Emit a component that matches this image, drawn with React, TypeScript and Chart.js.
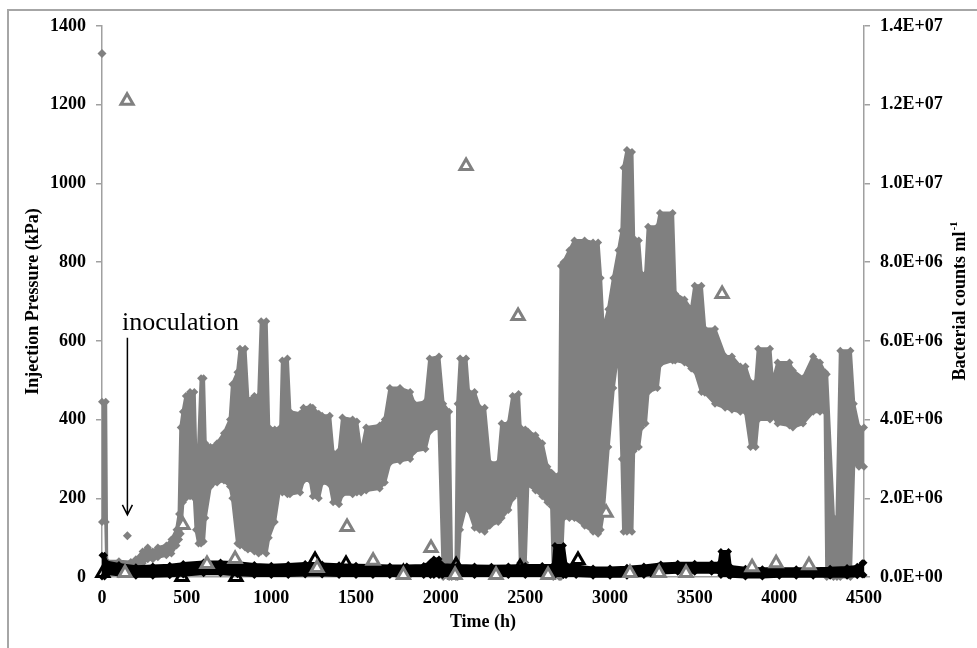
import React, { useEffect, useRef } from "react";
import { Chart, registerables } from "chart.js";

Chart.register(...registerables);

// ---- Injection pressure (gray diamonds), read as upper / lower envelope of the dense cloud ----
const timeH = [
  0, 22, 28, 100, 170, 200, 240, 270, 300, 330, 380, 410, 440, 455, 465, 478, 495, 520, 545, 555,
  570, 585, 600, 610, 640, 680, 720, 756, 770, 800, 815, 845, 862, 900, 925, 940, 970, 985, 1020, 1055,
  1065, 1095, 1110, 1170, 1190, 1230, 1245, 1280, 1300, 1345, 1365, 1400, 1420, 1480, 1505, 1530, 1560, 1640, 1670, 1700,
  1760, 1820, 1845, 1910, 1935, 1990, 2015, 2050, 2065, 2090, 2100, 2115, 2150, 2165, 2200, 2230, 2260, 2290, 2340, 2360,
  2400, 2425, 2460, 2470, 2500, 2515, 2560, 2600, 2630, 2655, 2665, 2700, 2710, 2725, 2760, 2790, 2850, 2900, 2930, 2945,
  2960, 2990, 3020, 3050, 3070, 3080, 3100, 3130, 3140, 3170, 3185, 3210, 3225, 3280, 3295, 3370, 3385, 3440, 3480, 3500,
  3540, 3560, 3620, 3680, 3720, 3770, 3800, 3830, 3860, 3875, 3945, 3960, 3990, 4060, 4080, 4140, 4200, 4240, 4270, 4280,
  4320, 4340, 4360, 4420, 4440, 4470, 4500,
];
const pressureHigh = [
  445, 445, 40, 40, 38, 45, 65, 75, 65, 75, 80, 95, 120, 160, 380, 420, 460, 470, 470, 300,
  330, 505, 505, 340, 330, 340, 365, 400, 490, 520, 580, 580, 450, 460, 460, 650, 650, 380, 375, 380,
  550, 555, 420, 415, 430, 432, 430, 415, 410, 410, 315, 320, 405, 400, 395, 315, 380, 385, 400, 480,
  480, 470, 440, 445, 555, 560, 440, 420, 30, 30, 440, 555, 555, 470, 470, 430, 430, 290, 290, 390,
  390, 460, 465, 380, 375, 370, 360, 340, 280, 265, 260, 260, 790, 800, 830, 855, 855, 850, 850, 760,
  630, 680, 760, 830, 880, 1040, 1085, 1080, 860, 855, 770, 770, 890, 890, 925, 925, 720, 705, 680, 740,
  740, 630, 630, 560, 560, 535, 535, 495, 495, 580, 580, 495, 545, 545, 525, 505, 560, 545, 520, 515,
  150, 150, 575, 575, 440, 380, 380,
];
const pressureLow = [
  140, 140, 20, 25, 20, 20, 35, 45, 45, 50, 55, 60, 80, 95, 110, 190, 200, 205, 200, 120,
  85, 85, 90, 150, 230, 240, 245, 230, 200, 85, 80, 75, 70, 65, 60, 65, 60, 100, 140, 240,
  215, 210, 210, 215, 245, 245, 205, 200, 240, 235, 190, 185, 210, 210, 215, 215, 220, 225, 240, 290,
  295, 300, 320, 325, 370, 380, 0, 0, 0, 0, 0, 120, 180, 170, 125, 120, 115, 130, 140, 150,
  170, 200, 210, 36, 36, 235, 220, 205, 190, 180, 0, 0, 0, 150, 150, 150, 130, 115, 110, 120,
  160, 330, 480, 580, 300, 115, 115, 115, 320, 330, 380, 390, 470, 480, 540, 550, 550, 545, 530, 525,
  470, 468, 440, 430, 425, 420, 420, 330, 330, 400, 400, 410, 390, 385, 380, 390, 420, 420, 420, 0,
  0, 0, 0, 0, 290, 280, 280,
];
// isolated gray diamonds
const outlierTimeH = [0, 150];
const outlierPressure = [1330, 105];

// ---- Low-pressure series (black diamonds), upper / lower envelope ----
const blackTimeH = [
  0, 15, 25, 100, 200, 300, 400, 480, 600, 700, 800, 900, 1000, 1100, 1200, 1300, 1400, 1500, 1600, 1700,
  1800, 1900, 1940, 1960, 1990, 2010, 2100, 2200, 2300, 2400, 2500, 2600, 2665, 2675, 2725, 2740, 2800, 2900, 3000, 3100,
  3200, 3300, 3400, 3500, 3600, 3645, 3655, 3700, 3710, 3800, 3900, 4000, 4100, 4200, 4300, 4400, 4460, 4490, 4500,
];
const blackHigh = [
  55, 55, 38, 32, 26, 28, 30, 34, 38, 38, 36, 32, 30, 32, 34, 33, 31, 30, 29, 28,
  28, 29, 38, 46, 46, 31, 29, 28, 27, 28, 29, 29, 30, 80, 80, 32, 28, 23, 23, 25,
  28, 33, 35, 35, 35, 35, 65, 65, 27, 22, 21, 21, 21, 21, 22, 24, 27, 36, 36,
];
const blackLow = [
  0, 0, 8, 6, 2, 2, 3, 5, 8, 8, 6, 4, 4, 4, 5, 5, 4, 4, 4, 4,
  4, 4, 4, 4, 4, 4, 4, 4, 4, 4, 4, 4, 4, 4, 4, 4, 4, 2, 2, 2,
  4, 10, 12, 12, 12, 12, 4, 4, 2, 0, 0, 2, 2, 2, 2, 2, 3, 5, 5,
];

// ---- Bacterial counts (right axis, ml^-1) ----
const grayCountTimeH = [
  136, 148, 478, 620, 786, 1270, 1447, 1601, 1780, 1943, 2085, 2150, 2327, 2457, 2634, 2977, 3118, 3290, 3449, 3662,
  3839, 3981, 4175,
];
const grayCounts = [
  1.0e5, 1.21e7, 1.32e6, 3.3e5, 4.6e5, 2.3e5, 1.27e6, 4.1e5, 5e4, 7.4e5, 5e4, 1.044e7, 5e4, 6.63e6, 5e4, 1.63e6, 1e5, 1e5, 1e5, 7.19e6,
  2.5e5, 3.5e5, 3e5,
];
const blackCountTimeH = [5, 472, 791, 1258, 1441, 1780, 2091, 2469, 2811, 3284, 3981];
const blackCounts = [1e5, 0, 0, 4.3e5, 3.3e5, 1.2e5, 3e5, 2.5e5, 4.3e5, 1.2e5, 3e5];

// ---- Annotation ----
const inoculationTimeH = 150;
const inoculationLabel = "inoculation";

const xTitle = "Time (h)";
const yTitle = "Injection Pressure (kPa)";
const y1Title = "Bacterial counts ml";
const y1TitleSup = "-1";

const GRAY = "#808080";
const AXIS = "#a0a0a0";
const SERIF = '"Liberation Serif", "Times New Roman", serif';

const pts = (xs: number[], ys: number[]) => xs.map((x, i) => ({ x, y: ys[i] }));

const fmtSci = (v: number) => {
  const [m, e] = Number(v).toExponential(1).split("e");
  const sign = e[0] === "-" ? "-" : "+";
  const d = e.replace(/[+-]/, "").padStart(2, "0");
  return `${m}E${sign}${d}`;
};

const overlayPlugin = {
  id: "overlay",
  afterDraw(chart: any) {
    const { ctx, chartArea, scales } = chart;
    const midY = (chartArea.top + chartArea.bottom) / 2;
    ctx.save();
    ctx.fillStyle = "#000";
    ctx.font = `bold 18px ${SERIF}`;
    ctx.textAlign = "center";
    ctx.textBaseline = "middle";
    ctx.fillText(xTitle, (chartArea.left + chartArea.right) / 2, chartArea.bottom + 45);

    ctx.save();
    ctx.translate(chartArea.left - 69, midY);
    ctx.rotate(-Math.PI / 2);
    ctx.fillText(yTitle, 0, 0);
    ctx.restore();

    ctx.save();
    ctx.translate(chartArea.right + 96, midY);
    ctx.rotate(-Math.PI / 2);
    ctx.font = `bold 18px ${SERIF}`;
    const w1 = ctx.measureText(y1Title).width;
    ctx.font = `bold 11px ${SERIF}`;
    const w2 = ctx.measureText(y1TitleSup).width;
    const start = -(w1 + w2) / 2;
    ctx.textAlign = "left";
    ctx.font = `bold 18px ${SERIF}`;
    ctx.fillText(y1Title, start, 0);
    ctx.font = `bold 11px ${SERIF}`;
    ctx.fillText(y1TitleSup, start + w1 + 1, -6);
    ctx.restore();

    // inoculation annotation
    const xs = scales.x;
    const ys = scales.y;
    const ax = xs.getPixelForValue(inoculationTimeH);
    ctx.font = `26px ${SERIF}`;
    ctx.textAlign = "left";
    ctx.textBaseline = "alphabetic";
    ctx.fillText(inoculationLabel, xs.getPixelForValue(118), ys.getPixelForValue(628));
    const yTop = ys.getPixelForValue(608);
    const yTip = ys.getPixelForValue(158);
    ctx.strokeStyle = "#000";
    ctx.lineWidth = 1.5;
    ctx.beginPath();
    ctx.moveTo(ax, yTop);
    ctx.lineTo(ax, yTip);
    ctx.moveTo(ax - 5, yTip - 10);
    ctx.lineTo(ax, yTip);
    ctx.lineTo(ax + 5, yTip - 10);
    ctx.stroke();
    ctx.restore();
  },
};

export default function App() {
  const ref = useRef<HTMLCanvasElement | null>(null);

  useEffect(() => {
    if (!ref.current) return;
    const tickFont = { family: SERIF, size: 18, weight: "bold" as const };
    const chart = new Chart(ref.current, {
      type: "line",
      data: {
        datasets: [
          {
            label: "counts A",
            data: pts(grayCountTimeH, grayCounts),
            yAxisID: "y1",
            showLine: false,
            pointStyle: "triangle",
            pointRadius: 7,
            pointBorderColor: GRAY,
            pointBackgroundColor: "#fff",
            pointBorderWidth: 3,
            clip: false,
          },
          {
            label: "counts B",
            data: pts(blackCountTimeH, blackCounts),
            yAxisID: "y1",
            showLine: false,
            pointStyle: "triangle",
            pointRadius: 7,
            pointBorderColor: "#000",
            pointBackgroundColor: "rgba(255,255,255,0)",
            pointBorderWidth: 3,
            clip: false,
          },
          {
            label: "outliers",
            data: pts(outlierTimeH, outlierPressure),
            yAxisID: "y",
            showLine: false,
            pointStyle: "rectRot",
            pointRadius: 4.5,
            pointBackgroundColor: GRAY,
            pointBorderWidth: 0,
            clip: false,
          },
          {
            label: "black high",
            data: pts(blackTimeH, blackHigh),
            yAxisID: "y",
            borderColor: "#000",
            borderWidth: 3,
            pointStyle: "rectRot",
            pointRadius: 3.5,
            pointBackgroundColor: "#000",
            pointBorderWidth: 0,
            fill: false,
            tension: 0,
            clip: false,
          },
          {
            label: "black low",
            data: pts(blackTimeH, blackLow),
            yAxisID: "y",
            borderColor: "#000",
            borderWidth: 3,
            pointStyle: "rectRot",
            pointRadius: 3.5,
            pointBackgroundColor: "#000",
            pointBorderWidth: 0,
            backgroundColor: "#000",
            fill: 3,
            tension: 0,
            clip: false,
          },
          {
            label: "pressure high",
            data: pts(timeH, pressureHigh),
            yAxisID: "y",
            borderColor: GRAY,
            borderWidth: 3,
            pointStyle: "rectRot",
            pointRadius: 4,
            pointBackgroundColor: GRAY,
            pointBorderWidth: 0,
            fill: false,
            tension: 0,
            clip: false,
          },
          {
            label: "pressure low",
            data: pts(timeH, pressureLow),
            yAxisID: "y",
            borderColor: GRAY,
            borderWidth: 3,
            pointStyle: "rectRot",
            pointRadius: 4,
            pointBackgroundColor: GRAY,
            pointBorderWidth: 0,
            backgroundColor: GRAY,
            fill: 5,
            tension: 0,
            clip: false,
          },
        ],
      },
      options: {
        animation: false,
        responsive: false,
        maintainAspectRatio: false,
        layout: { padding: { top: 26, left: 0, right: 0, bottom: 0 } },
        plugins: { legend: { display: false }, tooltip: { enabled: false } },
        elements: { line: { borderJoinStyle: "round" } },
        scales: {
          x: {
            type: "linear",
            position: "bottom",
            min: 0,
            max: 4500,
            ticks: {
              stepSize: 500,
              color: "#000",
              font: tickFont,
              padding: 11,
              maxRotation: 0,
              autoSkip: false,
              callback: (v: any) => String(v),
            },
            grid: { display: false, drawTicks: false },
            border: { display: true, color: AXIS, width: 1.5 },
            afterFit: (s: any) => {
              s.height = 71;
            },
          },
          y: {
            type: "linear",
            position: "left",
            min: 0,
            max: 1400,
            ticks: { stepSize: 200, color: "#000", font: tickFont, padding: 10, callback: (v: any) => String(v) },
            grid: { drawOnChartArea: false, drawTicks: true, tickLength: 6, color: AXIS, lineWidth: 1.5 },
            border: { display: true, color: AXIS, width: 1.5 },
            afterFit: (s: any) => {
              s.width = 102;
            },
          },
          y1: {
            type: "linear",
            position: "right",
            min: 0,
            max: 1.4e7,
            ticks: { stepSize: 2e6, color: "#000", font: tickFont, padding: 10, callback: (v: any) => fmtSci(Number(v)) },
            grid: { drawOnChartArea: false, drawTicks: true, tickLength: 6, color: AXIS, lineWidth: 1.5 },
            border: { display: true, color: AXIS, width: 1.5 },
            afterFit: (s: any) => {
              s.width = 113;
            },
          },
        },
      },
      plugins: [overlayPlugin],
    });
    return () => chart.destroy();
  }, []);

  return (
    <div style={{ position: "fixed", left: 0, top: 0, width: 977, height: 648, background: "#fff", overflow: "hidden" }}>
      <div style={{ position: "absolute", left: 7, top: 9, width: 970, height: 2, background: "#a6a6a6" }} />
      <div style={{ position: "absolute", left: 7, top: 9, width: 2, height: 639, background: "#a6a6a6" }} />
      <canvas ref={ref} width={977} height={648} style={{ position: "absolute", left: 0, top: 0, width: 977, height: 648 }} />
    </div>
  );
}
